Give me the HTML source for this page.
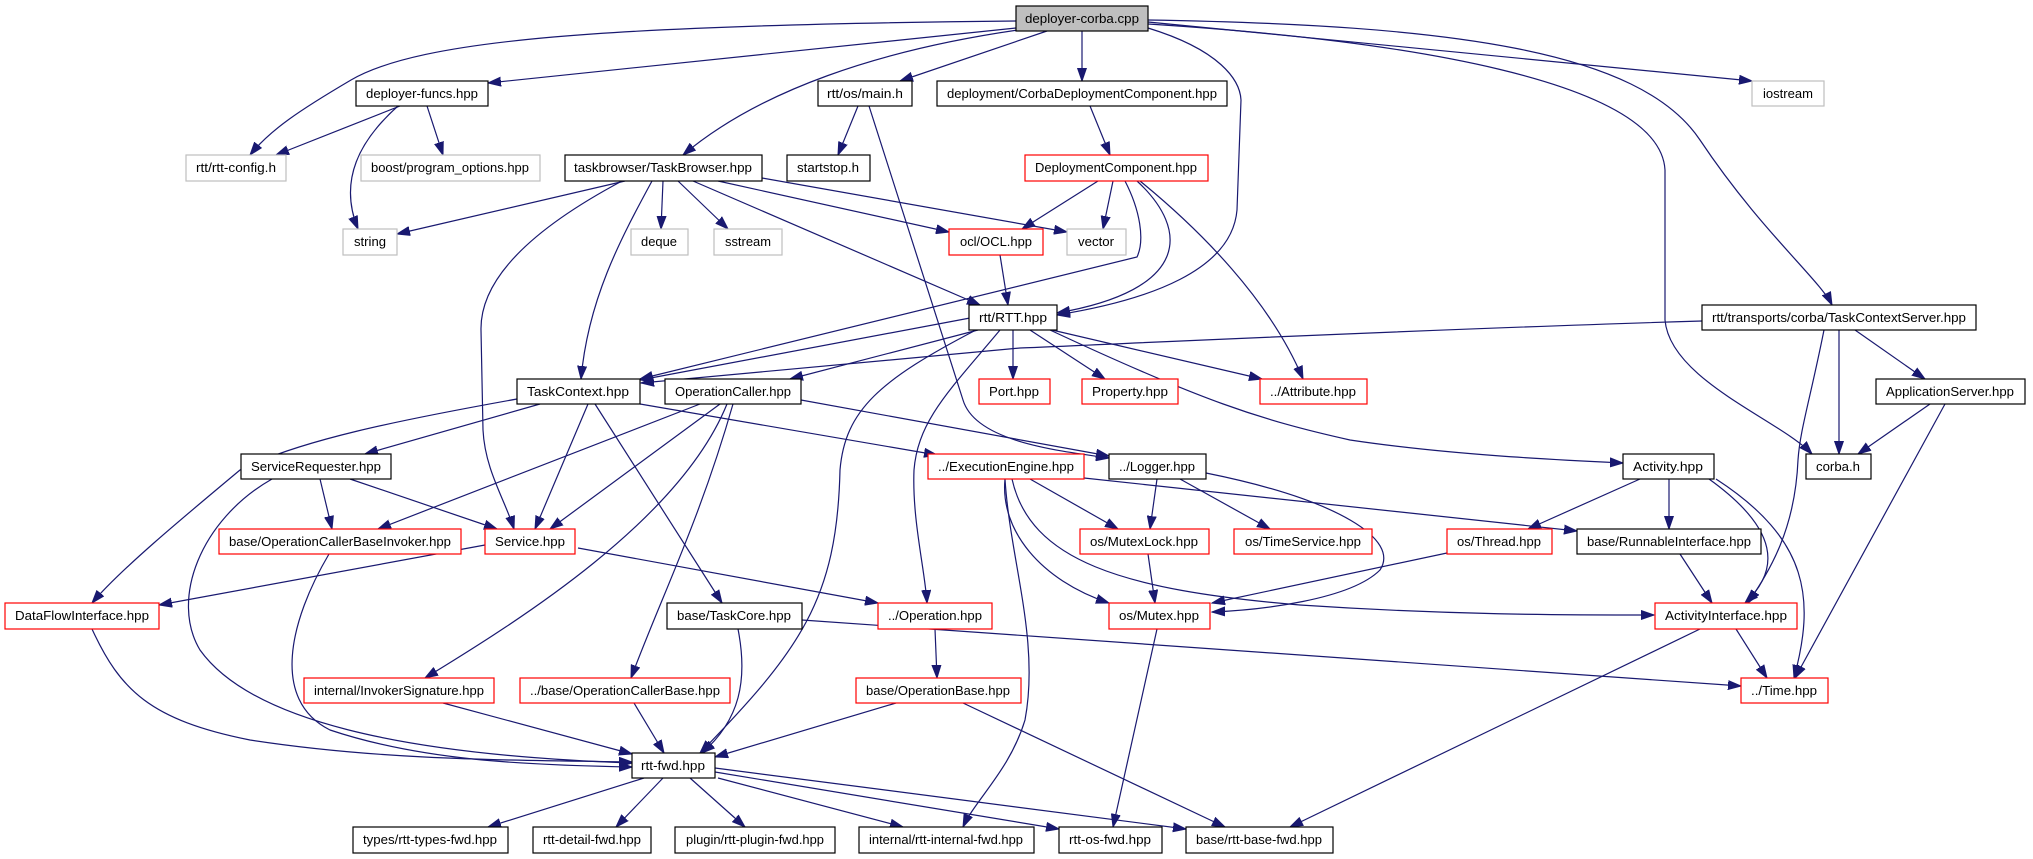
<!DOCTYPE html>
<html><head><meta charset="utf-8"><style>
html,body{margin:0;padding:0;background:#fff;}
svg{display:block;}
text{font-family:"Liberation Sans",sans-serif;font-size:13px;fill:#000;}
.e{fill:none;stroke:#191970;stroke-width:1.2;marker-end:url(#a);}
.b{fill:#fff;stroke:#000;stroke-width:1.2;}
.r{fill:#fff;stroke:#ff0000;stroke-width:1.2;}
.g{fill:#fff;stroke:#bfbfbf;stroke-width:1.2;}
</style></head><body>
<svg width="2033" height="859" viewBox="0 0 2033 859" xmlns="http://www.w3.org/2000/svg">
<defs><marker id="a" markerUnits="userSpaceOnUse" markerWidth="14" markerHeight="10" refX="13" refY="5" orient="auto"><path d="M0,0.5 L13,5 L0,9.5 z" fill="#191970" stroke="#191970"/></marker></defs>
<g>
<path class="e" d="M1016,21 C600,25 420,40 351,80 C300,110 270,130 250,155"/>
<path class="e" d="M1016,28 L488,83"/>
<path class="e" d="M1018,30 C880,50 760,90 683,155"/>
<path class="e" d="M1047,31 L900,81"/>
<path class="e" d="M1082,31 L1082,81"/>
<path class="e" d="M1148,28 C1220,50 1240,80 1241,100 L1237,210 C1232,270 1150,300 1057,315"/>
<path class="e" d="M1148,22 L1752,81"/>
<path class="e" d="M1148,24 C1400,40 1660,80 1665,170 L1665,320 C1670,380 1780,420 1812,454"/>
<path class="e" d="M1148,20 C1450,25 1640,50 1700,140 C1760,230 1820,280 1832,305"/>
<path class="e" d="M400,106 L276,155"/>
<path class="e" d="M398,106 C360,140 338,180 358,229"/>
<path class="e" d="M427,106 L443,155"/>
<path class="e" d="M858,106 L838,155"/>
<path class="e" d="M869,106 L963,400 C975,440 1050,450 1109,458"/>
<path class="e" d="M1090,106 L1110,155"/>
<path class="e" d="M625,181 L397,234"/>
<path class="e" d="M622,181 C530,230 480,280 481,330 L483,430 C485,470 505,500 514,529"/>
<path class="e" d="M652,181 C620,240 588,300 581,379"/>
<path class="e" d="M663,181 L661,229"/>
<path class="e" d="M678,181 L728,229"/>
<path class="e" d="M693,181 L980,305"/>
<path class="e" d="M718,181 L949,232"/>
<path class="e" d="M762,178 L1067,232"/>
<path class="e" d="M1098,181 L1022,229"/>
<path class="e" d="M1113,181 L1103,229"/>
<path class="e" d="M1125,181 C1140,210 1145,240 1137,257 L640,379"/>
<path class="e" d="M1137,181 C1190,230 1190,290 1057,313"/>
<path class="e" d="M1140,181 C1200,230 1270,300 1303,379"/>
<path class="e" d="M1000,255 L1008,305"/>
<path class="e" d="M970,318 L640,380"/>
<path class="e" d="M978,330 L790,379"/>
<path class="e" d="M1013,330 L1013,379"/>
<path class="e" d="M1030,330 L1105,379"/>
<path class="e" d="M1052,330 L1262,379"/>
<path class="e" d="M1050,330 C1200,400 1260,420 1350,440 C1450,455 1560,460 1623,463"/>
<path class="e" d="M1000,330 C950,390 918,420 914,470 C912,520 925,570 927,603"/>
<path class="e" d="M976,330 C880,380 845,410 840,470 C837,600 800,650 700,753"/>
<path class="e" d="M1702,321 C1400,330 1100,345 1020,348 L641,383"/>
<path class="e" d="M1839,330 L1839,454"/>
<path class="e" d="M1824,330 C1810,400 1800,430 1798,460 C1795,530 1770,570 1748,603"/>
<path class="e" d="M1855,330 L1925,379"/>
<path class="e" d="M1930,404 L1858,454"/>
<path class="e" d="M1945,404 L1795,678"/>
<path class="e" d="M540,404 L365,454"/>
<path class="e" d="M517,399 C400,420 300,440 240,470 C180,520 120,570 92,603"/>
<path class="e" d="M588,404 L535,529"/>
<path class="e" d="M595,404 L722,603"/>
<path class="e" d="M640,404 L937,455"/>
<path class="e" d="M700,404 L378,529"/>
<path class="e" d="M720,404 L550,529"/>
<path class="e" d="M727,404 C680,520 520,620 425,678"/>
<path class="e" d="M733,404 C700,520 660,600 631,678"/>
<path class="e" d="M801,400 L1109,456"/>
<path class="e" d="M320,479 L332,529"/>
<path class="e" d="M350,479 L497,529"/>
<path class="e" d="M272,479 C200,520 170,600 200,650 C250,720 400,755 632,763"/>
<path class="e" d="M329,554 C290,620 270,700 330,730 C420,760 520,765 632,767"/>
<path class="e" d="M485,545 L159,605"/>
<path class="e" d="M578,548 L878,603"/>
<path class="e" d="M92,629 C120,690 150,720 250,740 C380,760 500,760 632,762"/>
<path class="e" d="M738,629 C748,680 740,720 702,753"/>
<path class="e" d="M802,620 L1741,686"/>
<path class="e" d="M935,629 L937,678"/>
<path class="e" d="M443,703 L632,754"/>
<path class="e" d="M634,703 L664,753"/>
<path class="e" d="M896,703 L715,757"/>
<path class="e" d="M963,703 L1225,827"/>
<path class="e" d="M1030,479 L1118,529"/>
<path class="e" d="M1084,478 L1577,531"/>
<path class="e" d="M1005,479 C1000,530 1040,580 1109,603"/>
<path class="e" d="M1012,479 C1030,560 1120,590 1300,605 C1450,615 1560,615 1654,615"/>
<path class="e" d="M1005,479 C1010,560 1040,640 1025,720 C1010,770 975,800 963,827"/>
<path class="e" d="M1157,479 L1150,529"/>
<path class="e" d="M1180,479 L1270,529"/>
<path class="e" d="M1206,473 C1340,500 1400,540 1380,570 C1350,600 1260,610 1212,612"/>
<path class="e" d="M1640,479 L1528,529"/>
<path class="e" d="M1669,479 L1669,529"/>
<path class="e" d="M1709,479 C1780,530 1780,570 1745,603"/>
<path class="e" d="M1716,479 C1810,540 1815,600 1794,678"/>
<path class="e" d="M1148,554 L1155,603"/>
<path class="e" d="M1447,553 L1212,603"/>
<path class="e" d="M1680,554 L1712,603"/>
<path class="e" d="M1736,629 L1767,678"/>
<path class="e" d="M1700,629 L1290,827"/>
<path class="e" d="M1157,629 L1113,827"/>
<path class="e" d="M644,778 L488,827"/>
<path class="e" d="M663,778 L616,827"/>
<path class="e" d="M690,778 L745,827"/>
<path class="e" d="M718,778 L903,827"/>
<path class="e" d="M715,772 L1059,829"/>
<path class="e" d="M715,768 L1186,829"/>
</g>
<g>
<rect x="1016" y="6" width="132" height="25" fill="#bfbfbf" stroke="#000" stroke-width="1.2"/><text x="1082" y="23" text-anchor="middle" textLength="114" lengthAdjust="spacingAndGlyphs">deployer-corba.cpp</text>
<rect class="b" x="356" y="81" width="132" height="25"/><text x="422" y="98" text-anchor="middle" textLength="112" lengthAdjust="spacingAndGlyphs">deployer-funcs.hpp</text>
<rect class="b" x="818" y="81" width="94" height="25"/><text x="865" y="98" text-anchor="middle" textLength="76" lengthAdjust="spacingAndGlyphs">rtt/os/main.h</text>
<rect class="b" x="937" y="81" width="290" height="25"/><text x="1082" y="98" text-anchor="middle" textLength="270" lengthAdjust="spacingAndGlyphs">deployment/CorbaDeploymentComponent.hpp</text>
<rect class="g" x="1752" y="81" width="72" height="25"/><text x="1788" y="98" text-anchor="middle" textLength="50" lengthAdjust="spacingAndGlyphs">iostream</text>
<rect class="g" x="186" y="155" width="100" height="26"/><text x="236" y="172" text-anchor="middle" textLength="80" lengthAdjust="spacingAndGlyphs">rtt/rtt-config.h</text>
<rect class="g" x="361" y="155" width="179" height="26"/><text x="450" y="172" text-anchor="middle" textLength="158" lengthAdjust="spacingAndGlyphs">boost/program_options.hpp</text>
<rect class="b" x="565" y="155" width="197" height="26"/><text x="663" y="172" text-anchor="middle" textLength="178" lengthAdjust="spacingAndGlyphs">taskbrowser/TaskBrowser.hpp</text>
<rect class="b" x="787" y="155" width="83" height="26"/><text x="828" y="172" text-anchor="middle" textLength="62" lengthAdjust="spacingAndGlyphs">startstop.h</text>
<rect class="r" x="1025" y="155" width="183" height="26"/><text x="1116" y="172" text-anchor="middle" textLength="162" lengthAdjust="spacingAndGlyphs">DeploymentComponent.hpp</text>
<rect class="g" x="343" y="229" width="54" height="26"/><text x="370" y="246" text-anchor="middle" textLength="32" lengthAdjust="spacingAndGlyphs">string</text>
<rect class="g" x="631" y="229" width="57" height="26"/><text x="659" y="246" text-anchor="middle" textLength="36" lengthAdjust="spacingAndGlyphs">deque</text>
<rect class="g" x="714" y="229" width="68" height="26"/><text x="748" y="246" text-anchor="middle" textLength="46" lengthAdjust="spacingAndGlyphs">sstream</text>
<rect class="r" x="949" y="229" width="94" height="26"/><text x="996" y="246" text-anchor="middle" textLength="72" lengthAdjust="spacingAndGlyphs">ocl/OCL.hpp</text>
<rect class="g" x="1067" y="229" width="59" height="26"/><text x="1096" y="246" text-anchor="middle" textLength="36" lengthAdjust="spacingAndGlyphs">vector</text>
<rect class="b" x="969" y="305" width="88" height="25"/><text x="1013" y="322" text-anchor="middle" textLength="68" lengthAdjust="spacingAndGlyphs">rtt/RTT.hpp</text>
<rect class="b" x="1702" y="305" width="274" height="25"/><text x="1839" y="322" text-anchor="middle" textLength="254" lengthAdjust="spacingAndGlyphs">rtt/transports/corba/TaskContextServer.hpp</text>
<rect class="b" x="517" y="379" width="123" height="25"/><text x="578" y="396" text-anchor="middle" textLength="102" lengthAdjust="spacingAndGlyphs">TaskContext.hpp</text>
<rect class="b" x="665" y="379" width="136" height="25"/><text x="733" y="396" text-anchor="middle" textLength="116" lengthAdjust="spacingAndGlyphs">OperationCaller.hpp</text>
<rect class="r" x="979" y="379" width="71" height="25"/><text x="1014" y="396" text-anchor="middle" textLength="50" lengthAdjust="spacingAndGlyphs">Port.hpp</text>
<rect class="r" x="1082" y="379" width="96" height="25"/><text x="1130" y="396" text-anchor="middle" textLength="76" lengthAdjust="spacingAndGlyphs">Property.hpp</text>
<rect class="r" x="1260" y="379" width="107" height="25"/><text x="1313" y="396" text-anchor="middle" textLength="86" lengthAdjust="spacingAndGlyphs">../Attribute.hpp</text>
<rect class="b" x="1876" y="379" width="149" height="25"/><text x="1950" y="396" text-anchor="middle" textLength="128" lengthAdjust="spacingAndGlyphs">ApplicationServer.hpp</text>
<rect class="b" x="241" y="454" width="150" height="25"/><text x="316" y="471" text-anchor="middle" textLength="130" lengthAdjust="spacingAndGlyphs">ServiceRequester.hpp</text>
<rect class="r" x="928" y="454" width="156" height="25"/><text x="1006" y="471" text-anchor="middle" textLength="136" lengthAdjust="spacingAndGlyphs">../ExecutionEngine.hpp</text>
<rect class="b" x="1109" y="454" width="97" height="25"/><text x="1157" y="471" text-anchor="middle" textLength="76" lengthAdjust="spacingAndGlyphs">../Logger.hpp</text>
<rect class="b" x="1623" y="454" width="91" height="25"/><text x="1668" y="471" text-anchor="middle" textLength="70" lengthAdjust="spacingAndGlyphs">Activity.hpp</text>
<rect class="b" x="1806" y="454" width="65" height="25"/><text x="1838" y="471" text-anchor="middle" textLength="44" lengthAdjust="spacingAndGlyphs">corba.h</text>
<rect class="r" x="219" y="529" width="242" height="25"/><text x="340" y="546" text-anchor="middle" textLength="222" lengthAdjust="spacingAndGlyphs">base/OperationCallerBaseInvoker.hpp</text>
<rect class="r" x="485" y="529" width="90" height="25"/><text x="530" y="546" text-anchor="middle" textLength="70" lengthAdjust="spacingAndGlyphs">Service.hpp</text>
<rect class="r" x="1080" y="529" width="129" height="25"/><text x="1144" y="546" text-anchor="middle" textLength="108" lengthAdjust="spacingAndGlyphs">os/MutexLock.hpp</text>
<rect class="r" x="1234" y="529" width="138" height="25"/><text x="1303" y="546" text-anchor="middle" textLength="116" lengthAdjust="spacingAndGlyphs">os/TimeService.hpp</text>
<rect class="r" x="1447" y="529" width="105" height="25"/><text x="1499" y="546" text-anchor="middle" textLength="84" lengthAdjust="spacingAndGlyphs">os/Thread.hpp</text>
<rect class="b" x="1577" y="529" width="184" height="25"/><text x="1669" y="546" text-anchor="middle" textLength="164" lengthAdjust="spacingAndGlyphs">base/RunnableInterface.hpp</text>
<rect class="r" x="5" y="603" width="154" height="26"/><text x="82" y="620" text-anchor="middle" textLength="134" lengthAdjust="spacingAndGlyphs">DataFlowInterface.hpp</text>
<rect class="b" x="667" y="603" width="135" height="26"/><text x="734" y="620" text-anchor="middle" textLength="114" lengthAdjust="spacingAndGlyphs">base/TaskCore.hpp</text>
<rect class="r" x="878" y="603" width="114" height="26"/><text x="935" y="620" text-anchor="middle" textLength="94" lengthAdjust="spacingAndGlyphs">../Operation.hpp</text>
<rect class="r" x="1109" y="603" width="101" height="26"/><text x="1159" y="620" text-anchor="middle" textLength="80" lengthAdjust="spacingAndGlyphs">os/Mutex.hpp</text>
<rect class="r" x="1655" y="603" width="142" height="26"/><text x="1726" y="620" text-anchor="middle" textLength="122" lengthAdjust="spacingAndGlyphs">ActivityInterface.hpp</text>
<rect class="r" x="304" y="678" width="190" height="25"/><text x="399" y="695" text-anchor="middle" textLength="170" lengthAdjust="spacingAndGlyphs">internal/InvokerSignature.hpp</text>
<rect class="r" x="520" y="678" width="210" height="25"/><text x="625" y="695" text-anchor="middle" textLength="190" lengthAdjust="spacingAndGlyphs">../base/OperationCallerBase.hpp</text>
<rect class="r" x="856" y="678" width="165" height="25"/><text x="938" y="695" text-anchor="middle" textLength="144" lengthAdjust="spacingAndGlyphs">base/OperationBase.hpp</text>
<rect class="r" x="1741" y="678" width="87" height="25"/><text x="1784" y="695" text-anchor="middle" textLength="66" lengthAdjust="spacingAndGlyphs">../Time.hpp</text>
<rect class="b" x="632" y="753" width="83" height="25"/><text x="673" y="770" text-anchor="middle" textLength="64" lengthAdjust="spacingAndGlyphs">rtt-fwd.hpp</text>
<rect class="b" x="353" y="827" width="155" height="26"/><text x="430" y="844" text-anchor="middle" textLength="134" lengthAdjust="spacingAndGlyphs">types/rtt-types-fwd.hpp</text>
<rect class="b" x="533" y="827" width="118" height="26"/><text x="592" y="844" text-anchor="middle" textLength="98" lengthAdjust="spacingAndGlyphs">rtt-detail-fwd.hpp</text>
<rect class="b" x="675" y="827" width="160" height="26"/><text x="755" y="844" text-anchor="middle" textLength="138" lengthAdjust="spacingAndGlyphs">plugin/rtt-plugin-fwd.hpp</text>
<rect class="b" x="859" y="827" width="175" height="26"/><text x="946" y="844" text-anchor="middle" textLength="154" lengthAdjust="spacingAndGlyphs">internal/rtt-internal-fwd.hpp</text>
<rect class="b" x="1059" y="827" width="103" height="26"/><text x="1110" y="844" text-anchor="middle" textLength="82" lengthAdjust="spacingAndGlyphs">rtt-os-fwd.hpp</text>
<rect class="b" x="1186" y="827" width="147" height="26"/><text x="1259" y="844" text-anchor="middle" textLength="126" lengthAdjust="spacingAndGlyphs">base/rtt-base-fwd.hpp</text>
</g>
</svg>
</body></html>
